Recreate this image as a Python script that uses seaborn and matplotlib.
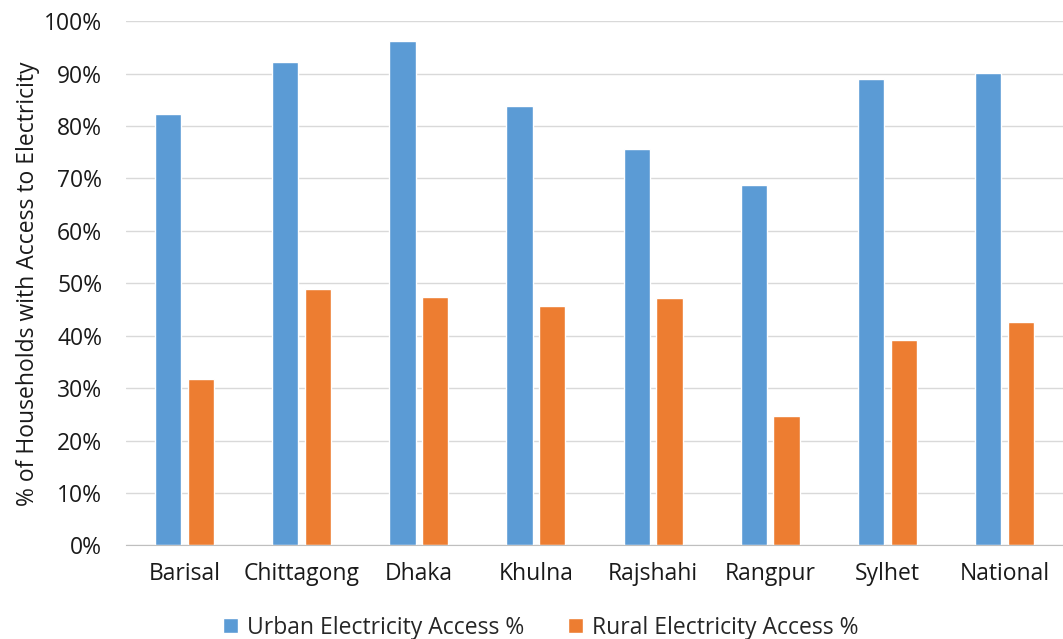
import numpy as np
import pandas as pd
import seaborn as sns
import matplotlib.pyplot as plt
from matplotlib.ticker import PercentFormatter

# values
divisions = ['Barisal', 'Chittagong', 'Dhaka', 'Khulna', 'Rajshahi', 'Rangpur', 'Sylhet', 'National']
urban = [0.823, 0.923, 0.962, 0.838, 0.756, 0.688, 0.890, 0.901]
rural = [0.318, 0.489, 0.473, 0.456, 0.471, 0.247, 0.391, 0.426]
series = ['Urban Electricity Access %', 'Rural Electricity Access %']

df = pd.DataFrame({'division': divisions, series[0]: urban, series[1]: rural})
df = df.melt(id_vars='division', var_name='series', value_name='share')

sns.set_style('white')
plt.rcParams['font.family'] = ['Open Sans', 'DejaVu Sans']

fig = plt.figure(figsize=(10.63, 6.39), dpi=100)
ax = fig.add_axes([0.1185, 0.1466, 0.8815, 0.8201])

sns.barplot(data=df, x='division', y='share', hue='series', hue_order=series,
            palette=['#5B9BD5', '#ED7D31'], width=0.56, gap=0.2,
            saturation=1, ax=ax, legend=True)

ax.set_ylim(0, 1)
ax.set_xlim(-0.5, len(divisions) - 0.5)
ax.set_yticks(np.arange(0, 1.01, 0.1))
ax.yaxis.set_major_formatter(PercentFormatter(1, decimals=0))
ax.grid(axis='y', color='#D9D9D9', linewidth=1)
ax.set_axisbelow(True)
for s in ['left', 'right', 'top']:
    ax.spines[s].set_visible(False)
ax.spines['bottom'].set_color('#BFBFBF')
ax.tick_params(axis='both', length=0, labelsize=16.5, colors='#1a1a1a')
ax.tick_params(axis='x', pad=12)
ax.tick_params(axis='y', pad=17)
ax.set_xlabel('')
ax.set_ylabel('% of Households with Access to Electricity', fontsize=16.5,
              color='#1a1a1a', labelpad=3)

ax.legend(loc='upper center', bbox_to_anchor=(0.443, -0.095), ncol=2, frameon=False,
          fontsize=16.5, handlelength=0.65, handleheight=0.65, columnspacing=1.9,
          handletextpad=0.4)

fig.savefig('out.png', dpi=100)
